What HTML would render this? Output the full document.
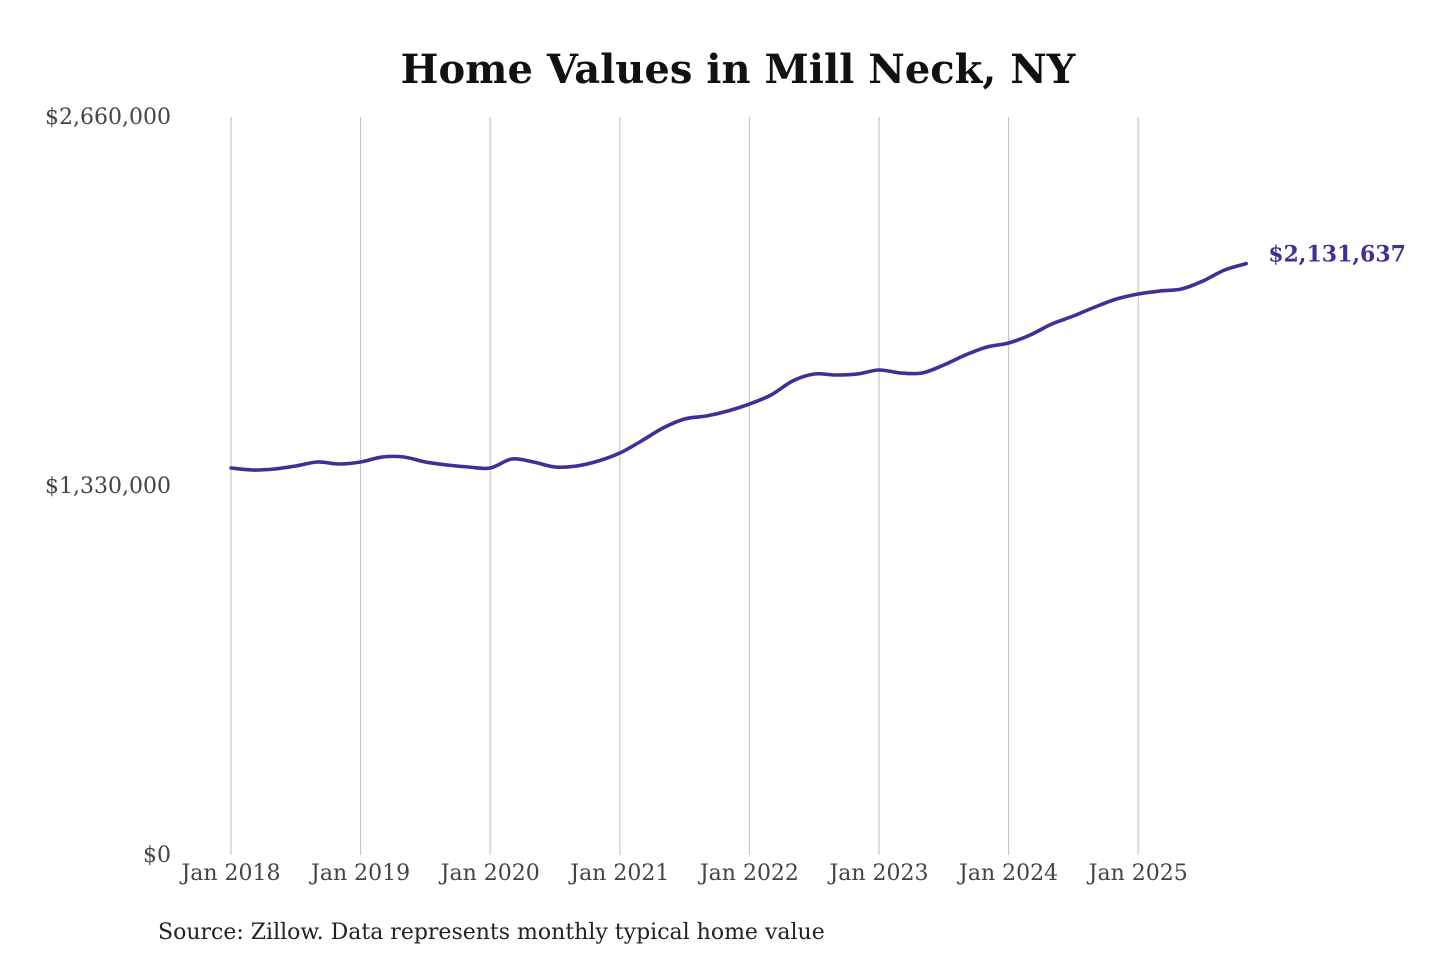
<!DOCTYPE html>
<html><head><meta charset="utf-8"><style>
body{margin:0;background:#fff;width:1440px;height:960px;overflow:hidden;font-family:"DejaVu Serif","Liberation Serif",serif;}
</style></head><body>
<svg id="chart" width="1440" height="960" xmlns="http://www.w3.org/2000/svg">
<text x="738" y="83" text-anchor="middle" font-family="DejaVu Serif, serif" font-weight="bold" font-size="40" fill="#111">Home Values in Mill Neck, NY</text>
<g id="grid"></g><g id="yaxis"></g><g id="xaxis"></g><g id="series"></g>
<text x="158" y="939" font-family="DejaVu Serif, serif" font-size="22" fill="#222">Source: Zillow. Data represents monthly typical home value</text>
</svg>
<script>
const yTicks = [0, 1330000, 2660000];
const yTickLabels = ["$0", "$1,330,000", "$2,660,000"];
const xTickYears = [2018, 2019, 2020, 2021, 2022, 2023, 2024, 2025];
const xTickLabels = ["Jan 2018","Jan 2019","Jan 2020","Jan 2021","Jan 2022","Jan 2023","Jan 2024","Jan 2025"];
// bimonthly values starting Jan 2018 (month index step 2)
const values = [1394900,1387700,1391300,1402100,1416500,1409300,
1416500,1434500,1434500,1416500,1405700,1398500,
1394900,1427300,1416500,1398500,1402100,1420100,
1448900,1492200,1539000,1571500,1582300,1600300,
1625500,1658000,1708400,1733700,1730100,1733700,
1748100,1737300,1737300,1766100,1802100,1831000,
1845400,1874200,1913900,1942700,1975200,2003900,
2022000,2032800,2040000,2068900,2108500,2131637];
const endLabel = "$2,131,637";

const NS="http://www.w3.org/2000/svg";
const x0=231, pxPerYear=129.6, yBase=855, yTop=117, yMax=2660000;
const xs = m => x0 + m*pxPerYear/12;
const ys = v => yBase - v/yMax*(yBase-yTop);
function mk(tag, attrs, parent){const e=document.createElementNS(NS,tag);for(const k in attrs)e.setAttribute(k,attrs[k]);parent.appendChild(e);return e;}

const grid=document.getElementById('grid'), yaxis=document.getElementById('yaxis'), xaxis=document.getElementById('xaxis'), series=document.getElementById('series');
xTickYears.forEach((yr,i)=>{
  const x=xs((yr-2018)*12);
  const l=mk('line',{x1:x,x2:x,y1:yTop,y2:yBase,stroke:'#c8c8c8','stroke-width':1.2},grid);
  
  
  const t=mk('text',{x:x,y:880,'text-anchor':'middle','font-size':22,fill:'#444'},xaxis);
  t.textContent=xTickLabels[i];
  
  
});
yTicks.forEach((v,i)=>{
  const t=mk('text',{x:171,y:ys(v)+7,'text-anchor':'end','font-size':22,fill:'#444'},yaxis);
  t.textContent=yTickLabels[i];
  
  
});
const pts=values.map((v,i)=>[xs(i*2),ys(v)]);
let d='M'+pts[0][0]+','+pts[0][1];
for(let i=0;i<pts.length-1;i++){
  const p0=pts[Math.max(0,i-1)],p1=pts[i],p2=pts[i+1],p3=pts[Math.min(pts.length-1,i+2)];
  const c1=[p1[0]+(p2[0]-p0[0])/6,p1[1]+(p2[1]-p0[1])/6];
  const c2=[p2[0]-(p3[0]-p1[0])/6,p2[1]-(p3[1]-p1[1])/6];
  d+=' C'+c1[0]+','+c1[1]+' '+c2[0]+','+c2[1]+' '+p2[0]+','+p2[1];
}
const path=mk('path',{d:d,fill:'none',stroke:'#3b3196','stroke-width':3.6,'stroke-linejoin':'round','stroke-linecap':'round'},series);


const last=pts[pts.length-1];
const el=mk('text',{x:last[0]+22,y:last[1]-2,'font-size':22,'font-weight':'bold',fill:'#3b3196'},series);
el.textContent=endLabel;


</script>
</body></html>
